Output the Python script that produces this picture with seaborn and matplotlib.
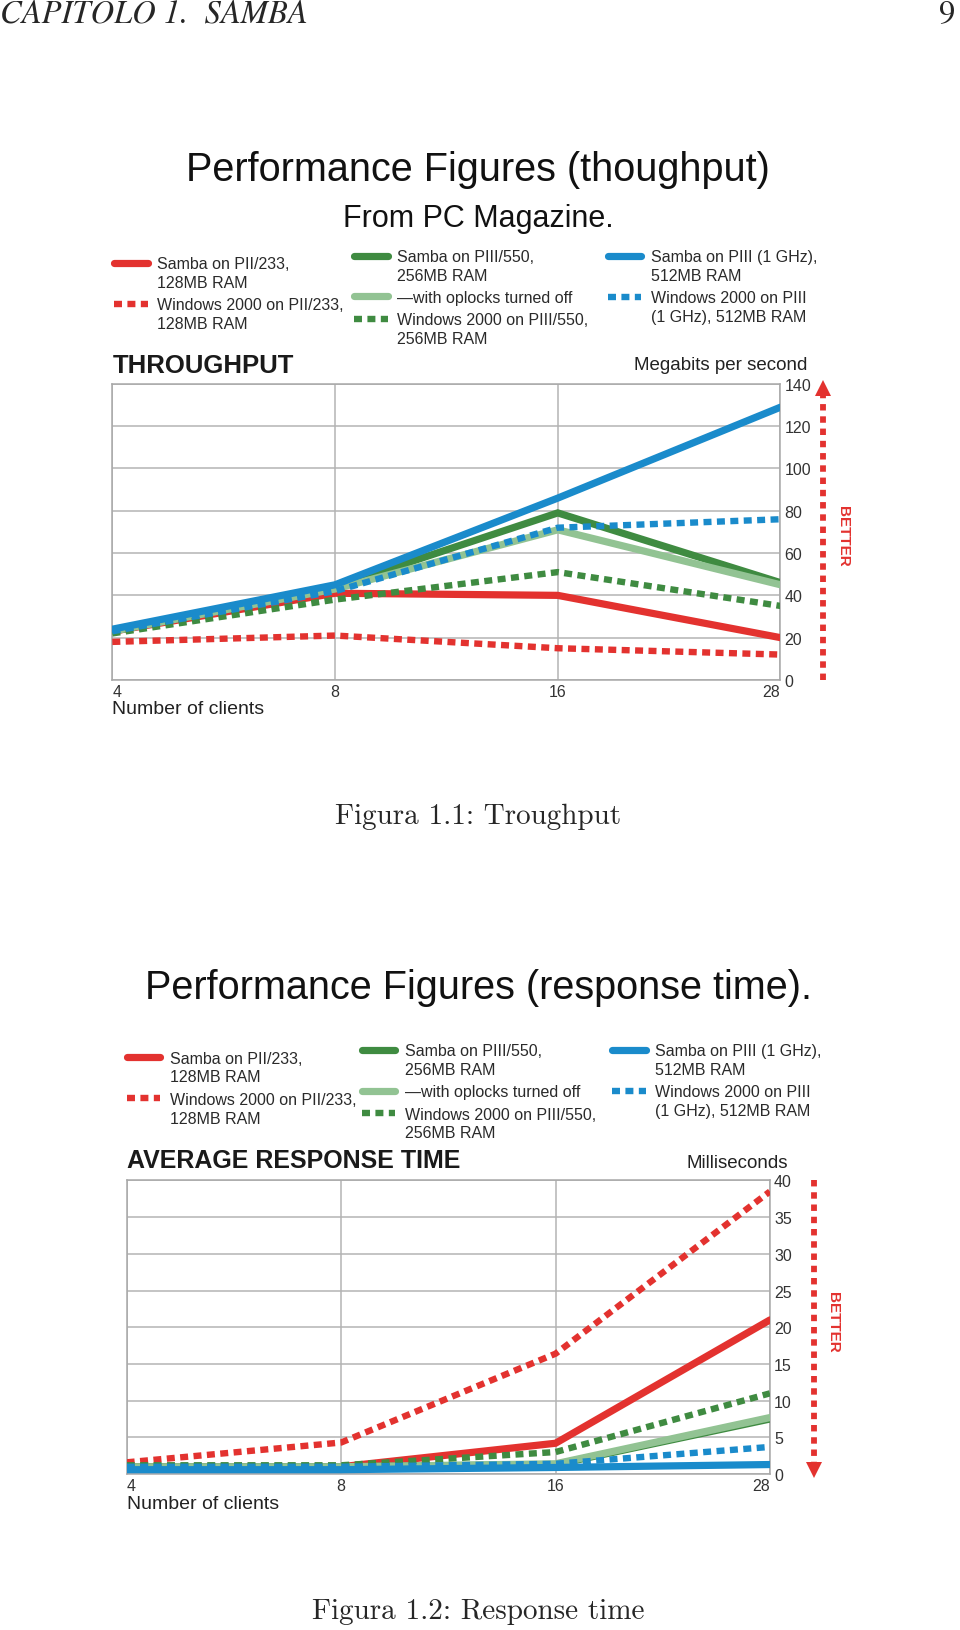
import matplotlib
matplotlib.use("Agg")
import matplotlib.pyplot as plt
from matplotlib import font_manager as fm
from matplotlib.legend_handler import HandlerLine2D
import seaborn as sns

# ---------------- data ----------------
clients = ["4", "8", "16", "28"]

series_labels = [
    "Samba on PII/233,\n128MB RAM",
    "Windows 2000 on PII/233,\n128MB RAM",
    "Samba on PIII/550,\n256MB RAM",
    "\u2014with oplocks turned off",
    "Windows 2000 on PIII/550,\n256MB RAM",
    "Samba on PIII (1 GHz),\n512MB RAM",
    "Windows 2000 on PIII\n(1 GHz), 512MB RAM",
]

# Throughput (Megabits per second)
tp_samba_pii233 = [23, 41, 40, 20]
tp_win_pii233 = [18, 21, 15, 12]
tp_samba_piii550 = [23, 44, 79, 46]
tp_oplocks_off = [23, 43, 71, 45]
tp_win_piii550 = [22, 38, 51, 35]
tp_samba_piii1g = [24, 45, 86, 129]
tp_win_piii1g = [23, 42, 72, 76]

# Average response time (milliseconds)
rt_samba_pii233 = [1.0, 1.0, 4.2, 21.0]
rt_win_pii233 = [1.6, 4.3, 16.4, 38.5]
rt_samba_piii550 = [1.0, 1.0, 1.3, 7.5]
rt_oplocks_off = [1.0, 1.0, 1.4, 7.7]
rt_win_piii550 = [1.2, 1.2, 3.0, 11.0]
rt_samba_piii1g = [0.6, 0.6, 0.9, 1.3]
rt_win_piii1g = [1.0, 1.0, 1.4, 3.7]

tp_ticks = [0, 20, 40, 60, 80, 100, 120, 140]
rt_ticks = [0, 5, 10, 15, 20, 25, 30, 35, 40]

# ---------------- styles ----------------
RED = "#e3322f"
GREEN = "#3f8b41"
LGREEN = "#92c393"
BLUE = "#1a8bcb"
colors = [RED, RED, GREEN, LGREEN, GREEN, BLUE, BLUE]
dotted = [False, True, False, False, True, False, True]

sns.set_style("white")
names = {f.name for f in fm.fontManager.ttflist}
NARROW = "Liberation Sans Narrow" if "Liberation Sans Narrow" in names else "Liberation Sans"
plt.rcParams["font.family"] = ["Liberation Sans", "DejaVu Sans"]

fig = plt.figure(figsize=(9.6, 16.31), dpi=100)

ax1 = fig.add_axes([0.117, 0.5825, 0.696, 0.1815])
ax2 = fig.add_axes([0.132, 0.0956, 0.670, 0.180])

draw_order = [1, 0, 4, 3, 2, 6, 5]


def draw(ax, datasets, ticks, ymax):
    xs = list(range(len(clients)))
    handles = {}
    for i in draw_order:
        y = datasets[i]
        if dotted[i]:
            sns.lineplot(x=xs, y=y, ax=ax, color=colors[i], lw=4.6,
                         linestyle=(0, (1.25, 0.85)), solid_capstyle="butt",
                         dash_capstyle="butt", zorder=3 + i * 0.1)
        else:
            sns.lineplot(x=xs, y=y, ax=ax, color=colors[i], lw=5.2,
                         zorder=3 + i * 0.1, solid_joinstyle="miter")
        handles[i] = ax.get_lines()[-1]
    ax.set_xlim(0, len(clients) - 1)
    ax.set_ylim(0, ymax)
    ax.set_xticks(xs)
    ax.set_xticklabels(clients)
    ax.set_yticks(ticks)
    ax.set_yticklabels([str(t) for t in ticks])
    ax.yaxis.tick_right()
    ax.tick_params(axis="both", length=0, labelsize=11.5, labelcolor="#333333", pad=3)
    for lab in ax.get_xticklabels() + ax.get_yticklabels():
        lab.set_fontfamily(NARROW)
    xl = ax.get_xticklabels()
    xl[0].set_ha("left")
    xl[-1].set_ha("right")
    ax.grid(True, color="#b4b4b4", lw=1.1)
    for s in ax.spines.values():
        s.set_color("#a8a8a8")
        s.set_linewidth(1.1)
    ax.set_xlabel("Number of clients", loc="left", fontsize=14, family=NARROW,
                  color="#222222", labelpad=1)
    ax.set_ylabel("")
    return handles


h1 = draw(ax1, [tp_samba_pii233, tp_win_pii233, tp_samba_piii550, tp_oplocks_off,
                tp_win_piii550, tp_samba_piii1g, tp_win_piii1g], tp_ticks, 140)
h2 = draw(ax2, [rt_samba_pii233, rt_win_pii233, rt_samba_piii550, rt_oplocks_off,
                rt_win_piii550, rt_samba_piii1g, rt_win_piii1g], rt_ticks, 40)


class ShiftedLine(HandlerLine2D):
    """Legend handle aligned with the first text line of a label."""
    def __init__(self, dy, **kw):
        super().__init__(**kw)
        self.dy = dy

    def create_artists(self, legend, orig_handle, xdescent, ydescent, width,
                       height, fontsize, trans):
        return super().create_artists(legend, orig_handle, xdescent,
                                      ydescent - 2 * self.dy, width, height,
                                      fontsize, trans)


LEG_FS = 11.5
LINESP = 1.33


def legends(handles, anchors):
    groups = [[0, 1], [2, 3, 4], [5, 6]]
    for grp, (ax_, ay) in zip(groups, anchors):
        hmap = {}
        for i in grp:
            nlines = series_labels[i].count("\n") + 1
            dy = (nlines - 1) * LEG_FS * LINESP / 2.0
            hmap[handles[i]] = ShiftedLine(dy)
        lg = fig.legend([handles[i] for i in grp], [series_labels[i] for i in grp],
                        loc="upper left", bbox_to_anchor=(ax_, ay),
                        bbox_transform=fig.transFigure, frameon=False,
                        borderpad=0, borderaxespad=0, handlelength=2.1,
                        handletextpad=0.6, labelspacing=0.45,
                        handler_map=hmap,
                        prop={"family": NARROW, "size": LEG_FS})
        for t in lg.get_texts():
            t.set_color("#2a2a2a")
            t.set_linespacing(LINESP)


legends(h1, [(0.119, 0.8423), (0.369, 0.8468), (0.633, 0.8468)])
legends(h2, [(0.132, 0.3553), (0.377, 0.3598), (0.6375, 0.3598)])

# chart headers
ax1.text(0, 1.064, "THROUGHPUT", transform=ax1.transAxes, ha="left", va="center",
         fontsize=18.5, fontweight="bold", family=NARROW, color="#1a1a1a")
ax1.text(1.04, 1.064, "Megabits per second", transform=ax1.transAxes, ha="right",
         va="center", fontsize=13.5, family=NARROW, color="#222222")
ax2.text(0, 1.071, "AVERAGE RESPONSE TIME", transform=ax2.transAxes, ha="left",
         va="center", fontsize=18, fontweight="bold", family=NARROW, color="#1a1a1a")
ax2.text(1.028, 1.061, "Milliseconds", transform=ax2.transAxes, ha="right",
         va="center", fontsize=13.5, family=NARROW, color="#222222")


# BETTER arrows
def better(ax, x, up, tx, ty):
    if up:
        ax.plot([x, x], [0.0, 0.965], transform=ax.transAxes, clip_on=False,
                color=RED, lw=4.2, linestyle=(0, (1.1, 1.0)), dash_capstyle="butt")
        ax.plot([x], [0.985], transform=ax.transAxes, clip_on=False, marker="^",
                ms=11, color=RED, mew=0)
    else:
        ax.plot([x, x], [1.0, 0.035], transform=ax.transAxes, clip_on=False,
                color=RED, lw=4.2, linestyle=(0, (1.1, 1.0)), dash_capstyle="butt")
        ax.plot([x], [0.015], transform=ax.transAxes, clip_on=False, marker="v",
                ms=11, color=RED, mew=0)
    ax.text(tx, ty, "BETTER", transform=ax.transAxes, rotation=270, ha="center",
            va="center", fontsize=11, fontweight="bold", family=NARROW, color=RED)


better(ax1, 1.063, True, 1.094, 0.49)
better(ax2, 1.068, False, 1.098, 0.52)

# page text
fig.text(0.0, 0.991, "CAPITOLO 1.  SAMBA", family="STIXGeneral", style="italic",
         fontsize=23.5, ha="left", va="center")
fig.text(0.995, 0.991, "9", family="STIXGeneral", fontsize=23.5, ha="right", va="center")
fig.text(0.498, 0.8958, "Performance Figures (thoughput)", fontsize=28.5,
         ha="center", va="center", color="#111111")
fig.text(0.498, 0.866, "From PC Magazine.", fontsize=22, family=NARROW,
         ha="center", va="center", color="#111111")
fig.text(0.498, 0.3942, "Performance Figures (response time).", fontsize=28.5,
         ha="center", va="center", color="#111111")
fig.text(0.498, 0.499, "Figura 1.1: Troughput", family="cmr10", fontsize=21,
         ha="center", va="center")
fig.text(0.498, 0.0115, "Figura 1.2: Response time", family="cmr10", fontsize=21,
         ha="center", va="center")

fig.savefig("out.png", dpi=100)
